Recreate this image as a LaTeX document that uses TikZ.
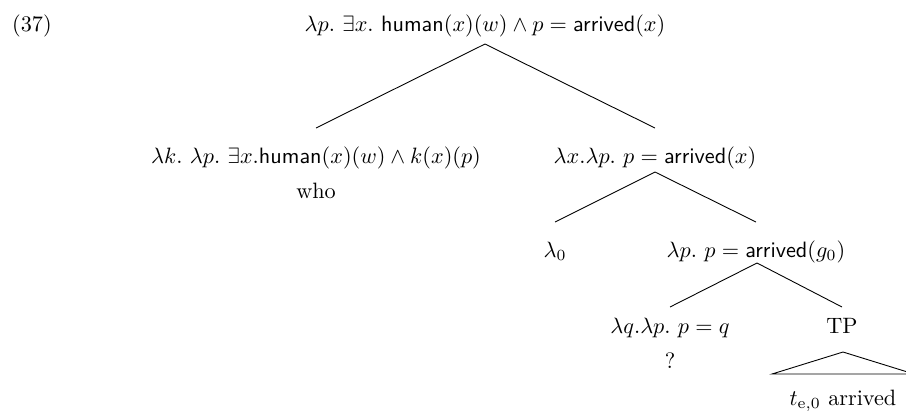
\documentclass[tikz,border=0pt]{standalone}
\usepackage{amsmath, amssymb}
\usepackage{tikz}

\begin{document}
\begin{tikzpicture}[x=0.45pt, y=-0.45pt, every node/.style={inner sep=0pt, anchor=base}]
        % 枠
        \clip (0,0) rectangle (906,418);
        % 番号
        \node (num) at (32,31) {(37)};
        % 根
        \node (root) at (485,31) {$\lambda p.\ \exists x.\ \textsf{human}(x)(w) \wedge p = \textsf{arrived}(x)$};
        \coordinate (root-b) at (485,44);
        % 第2層
        \node (who-sem) at (316,163) {$\lambda k.\ \lambda p.\ \exists x.\textsf{human}(x)(w) \wedge k(x)(p)$};
        \node (who) at (316,198) {who};
        \coordinate (who-t) at (316,128);
        \node (cp) at (655,163) {$\lambda x.\lambda p.\ p = \textsf{arrived}(x)$};
        \coordinate (cp-t) at (655,128);
        \coordinate (cp-b) at (655,172);
        \draw (root-b) -- (who-t);
        \draw (root-b) -- (cp-t);
        % 第3層
        \node (lam) at (555,257) {$\lambda_0$};
        \coordinate (lam-t) at (555,222);
        \node (cbar) at (756,257) {$\lambda p.\ p = \textsf{arrived}(g_0)$};
        \coordinate (cbar-t) at (756,222);
        \coordinate (cbar-b) at (757,263);
        \draw (cp-b) -- (lam-t);
        \draw (cp-b) -- (cbar-t);
        % 第4層
        \node (qop) at (670,333) {$\lambda q.\lambda p.\ p = q$};
        \node (qm) at (670,368) {?};
        \coordinate (qop-t) at (670,307);
        \node (tp) at (842,333) {TP};
        \coordinate (tp-t) at (842,307);
        \coordinate (tp-b) at (843,352);
        \draw (cbar-b) -- (qop-t);
        \draw (cbar-b) -- (tp-t);
        % 三角形
        \coordinate (tri-l) at (772,374);
        \coordinate (tri-r) at (914,374);
        \draw (tp-b) -- (tri-l) -- (tri-r) -- cycle;
        \node (leaf) at (843,405) {$t_{\mathrm{e},0}$ arrived};
      \end{tikzpicture}
\end{document}
